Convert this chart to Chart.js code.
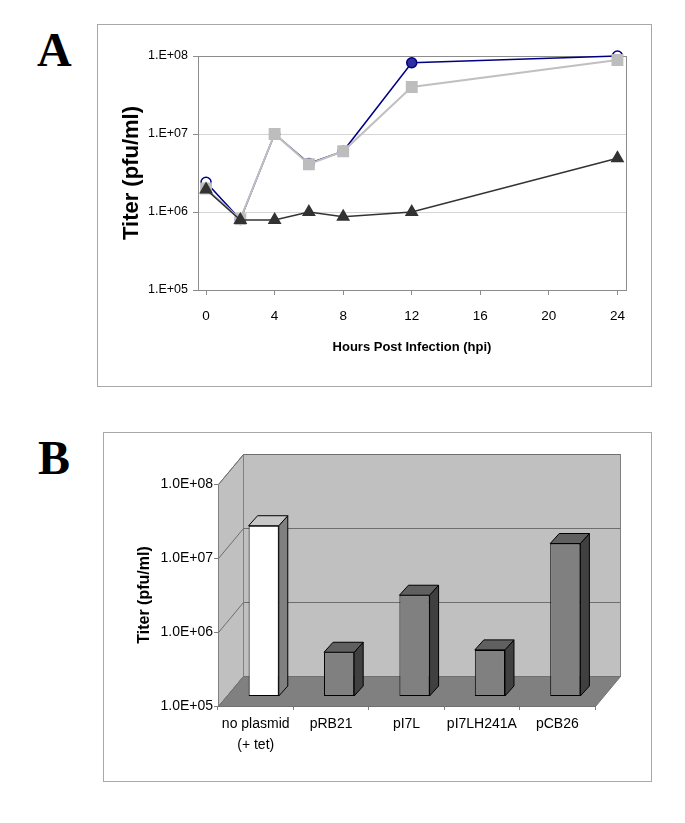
<!DOCTYPE html>
<html>
<head>
<meta charset="utf-8">
<script src="https://cdn.jsdelivr.net/npm/chart.js@4.4.1/dist/chart.umd.min.js"></script>
<style>
  html, body { margin: 0; padding: 0; background: #fff; }
  #page { position: relative; width: 685px; height: 823px; }
  .panel { position: absolute; border: 1px solid #a8a8a8; box-sizing: border-box; }
  .panel canvas { position: absolute; left: 0; top: 0; }
  .letter { position: absolute; font: bold 48px 'Liberation Serif', 'Times New Roman', serif; line-height: 48px; color: #000; }
</style>
</head>
<body>
<div id="page">
  <div class="letter" style="left:37px; top:26px;">A</div>
  <div class="letter" style="left:38px; top:434px;">B</div>
  <div class="panel" style="left:97px; top:24px; width:555px; height:363px;">
    <canvas id="chartA" width="553" height="361"></canvas>
  </div>
  <div class="panel" style="left:103px; top:432px; width:549px; height:350px;">
    <canvas id="chartB" width="547" height="348"></canvas>
  </div>
</div>
<script>
'use strict';

// panel A: titer over time
var hours = [0, 2, 4, 6, 8, 12, 24];
var circleTiter = [2.4e6, 8.0e5, 1.0e7, 4.2e6, 6.0e6, 8.2e7, 1.0e8];
var squareTiter = [2.0e6, 8.1e5, 1.0e7, 4.1e6, 6.0e6, 4.0e7, 8.9e7];
var triangleTiter = [1.95e6, 7.9e5, 7.9e5, 1.0e6, 8.7e5, 1.0e6, 4.9e6];
var hourTicks = [0, 4, 8, 12, 16, 20, 24];
var titerTicks = [1e5, 1e6, 1e7, 1e8];
var titerLabelsA = ['1.E+05', '1.E+06', '1.E+07', '1.E+08'];

// panel B: titer per plasmid
var plasmids = [['no plasmid', '(+ tet)'], 'pRB21', 'pI7L', 'pI7LH241A', 'pCB26'];
var plasmidTiter = [2.0e7, 3.9e5, 2.3e6, 4.2e5, 1.15e7];
var titerLabelsB = ['1.0E+05', '1.0E+06', '1.0E+07', '1.0E+08'];

var SANS = "'Liberation Sans', Arial, sans-serif";
Chart.defaults.font.family = SANS;
Chart.defaults.color = '#000';

function points(ys) {
    return hours.map(function (h, i) { return { x: h, y: ys[i] }; });
}

var plotFrame = {
    id: 'plotFrame',
    beforeDatasetsDraw: function (chart) {
        var ctx = chart.ctx, a = chart.chartArea;
        ctx.save();
        ctx.strokeStyle = '#8c8c8c';
        ctx.lineWidth = 1;
        ctx.strokeRect(Math.round(a.left) + 0.5, Math.round(a.top) + 0.5,
            Math.round(a.width), Math.round(a.height));
        ctx.restore();
    }
};

new Chart(document.getElementById('chartA'), {
    type: 'line',
    data: {
        datasets: [{
            data: points(triangleTiter),
            borderColor: '#333333',
            borderWidth: 1.5,
            pointStyle: 'triangle',
            pointRadius: 6.5,
            pointBackgroundColor: '#333333',
            pointBorderColor: '#333333',
            order: 1,
        }, {
            data: points(squareTiter),
            borderColor: '#c0c0c0',
            borderWidth: 2,
            pointStyle: 'rect',
            pointRadius: 7,
            pointBackgroundColor: '#bdbdbd',
            pointBorderColor: '#bdbdbd',
            order: 2,
        }, {
            data: points(circleTiter),
            borderColor: '#000080',
            borderWidth: 1.5,
            pointStyle: 'circle',
            pointRadius: 5,
            pointBackgroundColor: ['#fff', '#fff', '#fff', '#fff', '#fff', '#2e2ea0', '#fff'],
            pointBorderColor: '#000080',
            pointBorderWidth: 1.5,
            order: 3,
        }]
    },
    options: {
        responsive: false,
        animation: false,
        clip: false,
        layout: { padding: { top: 31, right: 25, left: 0, bottom: 0 } },
        plugins: { legend: { display: false }, tooltip: { enabled: false } },
        scales: {
            x: {
                type: 'linear',
                min: -0.47,
                max: 24.5,
                afterBuildTicks: function (s) { s.ticks = hourTicks.map(function (v) { return { value: v }; }); },
                afterFit: function (s) { s.height = 96; },
                ticks: { font: { size: 13.5 }, padding: 13, maxRotation: 0, autoSkip: false },
                grid: { drawOnChartArea: false, tickLength: 5, color: '#8c8c8c' },
                border: { display: true, color: '#8c8c8c' },
                title: {
                    display: true,
                    text: 'Hours Post Infection (hpi)',
                    font: { size: 13, weight: 'bold' },
                    padding: { top: 0, bottom: 31 }
                }
            },
            y: {
                type: 'logarithmic',
                min: 1e5,
                max: 1e8,
                afterBuildTicks: function (s) { s.ticks = titerTicks.map(function (v) { return { value: v }; }); },
                afterFit: function (s) { s.width = 100; },
                ticks: {
                    font: { size: 12.5 },
                    padding: 5,
                    autoSkip: false,
                    callback: function (v) { return titerLabelsA[titerTicks.indexOf(v)]; }
                },
                grid: {
                    tickLength: 5,
                    color: function (c) { return c.tick && c.tick.value === 1e8 ? '#8c8c8c' : '#d4d4d4'; },
                    tickColor: '#8c8c8c'
                },
                border: { display: true, color: '#8c8c8c' },
                title: {
                    display: true,
                    text: 'Titer (pfu/ml)',
                    font: { size: 22, weight: 'bold' },
                    padding: { top: 21, bottom: 0 }
                }
            }
        }
    },
    plugins: [plotFrame]
});

// 3D look for panel B: walls, floor, and bar sides/tops
var WALL_DX = 25, WALL_DY = -30;
var BAR_DX = 8, BAR_DY = -10;
var BAR_DEPTH_X = 9, BAR_DEPTH_Y = -10;
var barFront = ['#ffffff', '#808080', '#808080', '#808080', '#808080'];
var barSide = ['#808080', '#404040', '#404040', '#404040', '#404040'];
var barTop = ['#c8c8c8', '#606060', '#606060', '#606060', '#606060'];

function poly(ctx, pts) {
    ctx.beginPath();
    ctx.moveTo(pts[0][0], pts[0][1]);
    for (var i = 1; i < pts.length; i++) ctx.lineTo(pts[i][0], pts[i][1]);
    ctx.closePath();
}

var depth3d = {
    id: 'depth3d',
    beforeDatasetsDraw: function (chart) {
        var ctx = chart.ctx, a = chart.chartArea, y = chart.scales.y;
        var l = Math.round(a.left) + 0.5, r = Math.round(a.right) + 0.5;
        var t = Math.round(a.top) + 0.5, b = Math.round(a.bottom) + 0.5;
        ctx.save();
        ctx.lineWidth = 1;
        ctx.strokeStyle = '#808080';
        ctx.fillStyle = '#c0c0c0';
        poly(ctx, [[l + WALL_DX, t + WALL_DY], [r + WALL_DX, t + WALL_DY], [r + WALL_DX, b + WALL_DY], [l + WALL_DX, b + WALL_DY]]);
        ctx.fill(); ctx.stroke();
        poly(ctx, [[l, t], [l + WALL_DX, t + WALL_DY], [l + WALL_DX, b + WALL_DY], [l, b]]);
        ctx.fill(); ctx.stroke();
        ctx.strokeStyle = '#6e6e6e';
        titerTicks.forEach(function (v) {
            var py = Math.round(y.getPixelForValue(v)) + 0.5;
            ctx.beginPath();
            ctx.moveTo(l, py);
            ctx.lineTo(l + WALL_DX, py + WALL_DY);
            ctx.lineTo(r + WALL_DX, py + WALL_DY);
            ctx.stroke();
        });
        ctx.fillStyle = '#808080';
        ctx.strokeStyle = '#707070';
        poly(ctx, [[l, b], [r, b], [r + WALL_DX, b + WALL_DY], [l + WALL_DX, b + WALL_DY]]);
        ctx.fill(); ctx.stroke();
        ctx.restore();
        ctx.save();
        ctx.translate(BAR_DX, BAR_DY);
    },
    afterDatasetsDraw: function (chart) {
        var ctx = chart.ctx;
        var meta = chart.getDatasetMeta(0);
        ctx.lineWidth = 1;
        ctx.strokeStyle = '#000';
        meta.data.forEach(function (bar, i) {
            var p = bar.getProps(['x', 'y', 'base', 'width'], true);
            var x0 = p.x - p.width / 2, x1 = p.x + p.width / 2;
            ctx.fillStyle = barSide[i];
            poly(ctx, [[x1, p.y], [x1 + BAR_DEPTH_X, p.y + BAR_DEPTH_Y], [x1 + BAR_DEPTH_X, p.base + BAR_DEPTH_Y], [x1, p.base]]);
            ctx.fill(); ctx.stroke();
            ctx.fillStyle = barTop[i];
            poly(ctx, [[x0, p.y], [x1, p.y], [x1 + BAR_DEPTH_X, p.y + BAR_DEPTH_Y], [x0 + BAR_DEPTH_X, p.y + BAR_DEPTH_Y]]);
            ctx.fill(); ctx.stroke();
        });
        ctx.restore();
    }
};

new Chart(document.getElementById('chartB'), {
    type: 'bar',
    data: {
        labels: plasmids,
        datasets: [{
            data: plasmidTiter,
            backgroundColor: barFront,
            borderColor: '#000',
            borderWidth: 1,
            borderSkipped: false,
            barPercentage: 0.4,
            categoryPercentage: 1,
        }]
    },
    options: {
        responsive: false,
        animation: false,
        layout: { padding: { top: 51, right: 56, left: 0, bottom: 0 } },
        plugins: { legend: { display: false }, tooltip: { enabled: false } },
        scales: {
            x: {
                afterFit: function (s) { s.height = 75; },
                ticks: { font: { size: 14, lineHeight: 1.5 }, padding: 3.5, maxRotation: 0, autoSkip: false },
                grid: { drawOnChartArea: false, tickLength: 4, color: '#808080' },
                border: { display: false }
            },
            y: {
                type: 'logarithmic',
                min: 1e5,
                max: 1e8,
                afterBuildTicks: function (s) { s.ticks = titerTicks.map(function (v) { return { value: v }; }); },
                afterFit: function (s) { s.width = 114; },
                ticks: {
                    font: { size: 14 },
                    padding: 1,
                    autoSkip: false,
                    callback: function (v) { return titerLabelsB[titerTicks.indexOf(v)]; }
                },
                grid: { drawOnChartArea: false, tickLength: 4, color: '#808080' },
                border: { display: false },
                title: {
                    display: true,
                    text: 'Titer (pfu/ml)',
                    font: { size: 16, weight: 'bold' },
                    padding: { top: 31, bottom: 0 }
                }
            }
        }
    },
    plugins: [depth3d]
});
</script>
</body>
</html>
